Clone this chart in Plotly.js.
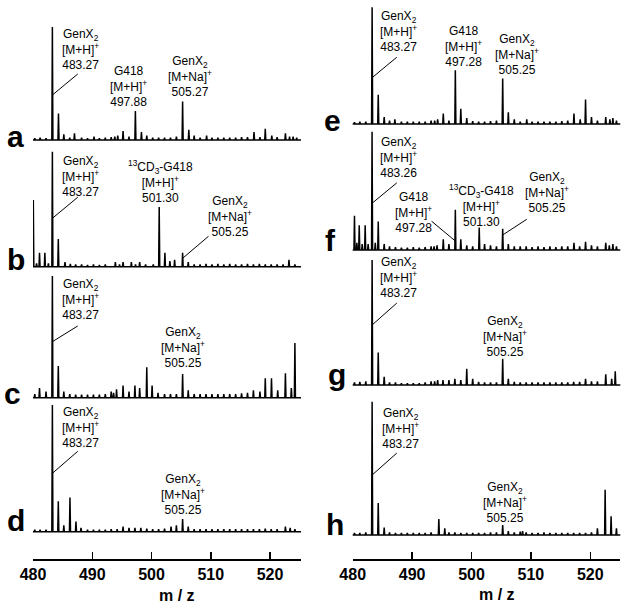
<!DOCTYPE html>
<html>
<head>
<meta charset="utf-8">
<script src="https://cdn.plot.ly/plotly-3.0.1.min.js"></script>
<style>html,body{margin:0;padding:0;background:#fff}#chart{width:629px;height:610px}</style>
</head>
<body>
<div id="chart"></div>
<script>
// ---------- DATA (m/z, relative intensity %) ----------
const tickValues = [480, 490, 500, 510, 520];
const axisTitle = 'm / z';
const panelLetters = ['a','b','c','d','e','f','g','h'];

const mzA = [480.3,481.2,482.2,483.27,484.3,485.2,486.2,487.0,488.2,489.2,490.3,491.2,492.2,493.2,493.8,494.3,495.2,496.2,497.28,498.3,499.2,500.2,501.2,502.2,503.2,504.2,505.25,506.3,507.2,508.2,509.3,510.2,511.2,512.2,513.2,514.2,515.2,516.2,517.3,518.3,519.2,520.3,521.2,522.6,523.3,523.9,524.5];
const intA = [1.5,2,1.5,100,23.5,5,2,6,2,1.5,3,1.5,2,2.5,3,4,8,3,25.6,7,4,2,2,2,2,3,34,9,4,2,4,2,2,2,2,2,2.5,2.5,7,2.5,10,4,2.5,6,3,3,2];

const mzB = [480.05,480.6,481.1,482.0,482.6,483.27,484.27,485.4,486.3,487.2,488.2,489.2,490.2,491.2,492.2,493.9,494.6,495.2,496.6,497.3,498.0,499.0,500.3,501.3,502.26,503.1,503.9,505.25,506.2,507.2,508.2,509.2,510.2,511.2,512.2,513.2,514.2,515.2,516.2,517.2,518.2,519.2,520.2,521.2,522.2,523.2,524.2];
const intB = [58,3,12,12,3,100,24,4,2.5,2,2,1.5,2,1.5,2,4,2,4,4,2,4,2,2,52,12,5,6,12,4,2,2,2.5,2,2.5,2,2.5,2,2,2.5,2,2.5,2,2,2,2,6,2];

const mzC = [480.3,481.1,482.2,483.27,484.27,485.2,486.2,487.2,488.2,489.2,490.2,491.2,492.2,493.2,493.6,494.1,495.2,496.2,497.2,498.0,499.2,500.1,501.1,502.2,503.2,504.2,505.25,506.2,507.2,508.2,509.2,510.2,511.2,512.2,513.2,514.2,515.2,516.2,517.2,518.3,519.2,520.25,521.3,522.6,523.6,524.2];
const intC = [3,8,5,100,26,5,3,2.5,2.5,2.5,2.5,2.5,3,5,4,7,10,5,10,8,25,10,4,3,3,3,19.5,6,3,3,3,3,3,3,3,3,3.5,4,6,5,16,16,6,20,8,45];

const mzD = [480.3,481.2,482.2,483.27,484.27,485.2,486.24,487.25,488.1,489.2,490.2,491.2,492.2,493.2,494.2,495.2,496.2,497.2,498.2,499.2,500.2,501.2,502.2,503.3,504.2,505.25,506.2,507.2,508.2,509.2,510.2,511.2,512.2,513.2,514.2,515.2,516.2,517.2,518.2,519.2,520.2,521.2,522.6,523.4,524.2];
const intD = [1.5,1.5,1.5,100,24,5,27,8,3,1.5,1.5,1.5,1.5,2,2,4,3,3,3,2.5,2,2,2.5,4,5,10,4,2,2,2,2,2,2,2,2,2,2,2,2,2.5,2,2,4,3,2];

const mzE = [480.3,481.2,482.2,483.27,484.3,485.3,486.2,487.1,488.2,489.2,490.2,491.2,492.2,493.2,493.8,494.3,495.25,496.2,497.28,498.2,499.2,500.2,501.2,502.2,503.2,504.2,505.25,506.2,507.2,508.2,509.3,510.2,511.2,512.2,513.2,514.2,515.2,516.2,517.25,518.3,519.2,520.2,521.2,522.6,523.3,523.8,524.4];
const intE = [1.5,2,2,100,25,6,3,4,2,2,2,2,2,3,3,4,9,3,46,13,5,2.5,2,2,2.5,3,39,10,4,2,4,2,2,2,2,2,2.5,3,9,4,21,6,3,6,4,5,3];

const mzF = [480.3,480.7,481.1,481.6,482.1,482.6,483.26,483.8,484.3,485.3,486.2,487.2,488.2,489.2,490.2,491.2,492.2,493.2,493.7,494.2,495.25,496.2,497.28,498.2,499.2,500.2,501.3,502.2,503.2,504.2,505.25,506.2,507.2,508.2,509.2,510.2,511.2,512.2,513.2,514.2,515.2,516.2,517.25,518.2,519.2,520.2,521.2,522.6,523.2,523.8,524.4];
const intF = [29,6,21,5,21,5,100,6,24,5,3,2.5,2,2,2.5,2,2.5,3,3,4,9,5,34,9,4,3,19,5,4,3,18,5,3,3,3,2.5,3,2.5,3,2.5,3,3,6,3,7,4,3,6,4,5,3];

const mzG = [480.3,481.2,482.2,483.27,484.3,485.3,486.2,487.2,488.2,489.2,490.2,491.2,492.2,493.2,493.8,494.3,495.2,496.2,497.2,498.2,499.2,500.2,501.2,502.2,503.2,504.2,505.25,506.2,507.2,508.2,509.2,510.2,511.2,512.2,513.2,514.2,515.2,516.2,517.2,518.2,519.2,520.2,521.2,522.6,523.6,524.2];
const intG = [2,2.5,3,100,26,6.5,2,2,1.5,1.5,1.5,1.5,2,3,3,4,4,4,5,4,13,5,2.5,2,2,2,21,5,2.5,2,2,2,2,2,2,2,2,2,2.5,2.5,5,3,3,8.5,5,11];

const mzH = [480.3,481.2,482.2,483.27,484.3,485.3,486.2,487.2,488.2,489.2,490.2,491.2,492.2,493.2,494.5,495.5,496.2,497.2,498.2,499.2,500.2,501.2,502.2,503.2,504.2,505.25,506.2,507.2,508.2,508.6,509.2,510.2,511.2,512.2,513.2,514.2,515.2,516.2,517.2,518.2,519.2,520.2,521.2,522.5,523.5,524.4];
const intH = [1.5,1.5,2,100,24,5.5,2,1.5,1.5,1.5,1.5,1.5,1.5,2,12,5,2,2,1.5,1.5,1.5,1.5,1.5,2,2,7.5,3,2,2.5,3,2,1.5,1.5,2,1.5,1.5,1.5,1.5,1.5,1.5,1.5,2,5,34,14,5];

// peak labels
const lblMH = (v) => 'GenX<sub>2</sub><br>[M+H]<sup>+</sup><br>' + v;
const lblNa = (v) => 'GenX<sub>2</sub><br>[M+Na]<sup>+</sup><br>' + v;
const lblG418 = (v) => 'G418<br>[M+H]<sup>+</sup><br>' + v;
const lblCD3 = (v) => '<sup>13</sup>CD<sub>3</sub>-G418<br>[M+H]<sup>+</sup><br>' + v;

// ---------- STYLE / LAYOUT ----------
const W = 629, H = 610;
const FONT = 'Arial, "Liberation Sans", Helvetica, sans-serif';
const spectra = [[mzA,intA],[mzB,intB],[mzC,intC],[mzD,intD],[mzE,intE],[mzF,intF],[mzG,intG],[mzH,intH]];
// baseline px, 100%-top px per panel
const geo = [[140,27],[266.7,151.7],[397.7,276],[531.7,405],[124,7.3],[250,131.7],[385,260],[535,401.7]];
const YLO = -5, YHI = 102;

function stick(mz, it){
  const idx = mz.map((m,i)=>i).sort((a,b)=>mz[a]-mz[b]);
  const xs=[479.5], ys=[0];
  idx.forEach(i=>{ const m=mz[i]; xs.push(m-0.09,m,m+0.09); ys.push(0,it[i],0); });
  xs.push(525.5); ys.push(0);
  return {xs,ys};
}

const traces = [];
const layout = {
  width: W, height: H, margin:{l:0,r:0,t:0,b:0},
  paper_bgcolor:'#fff', plot_bgcolor:'rgba(0,0,0,0)', showlegend:false,
  font:{family:FONT, color:'#000', size:12},
  annotations:[], shapes:[]
};
const xCommon = {tickvals:tickValues, ticks:'inside', ticklen:7, tickwidth:1.5, tickcolor:'#000',
  showline:true, linewidth:1.5, linecolor:'#000', showgrid:false, zeroline:false, anchor:'free',
  position: 1-559/H, tickfont:{family:FONT, size:16, color:'#000', weight:'bold'}, fixedrange:true};
layout.xaxis = Object.assign({}, xCommon, {domain:[33/W, 301/W], range:[480, 525.23]});
layout.xaxis2 = Object.assign({}, xCommon, {domain:[352.7/W, 620.3/W], range:[480, 525.05]});

spectra.forEach((s,k)=>{
  const {xs,ys} = stick(s[0], s[1]);
  const yname = k===0 ? 'y' : 'y'+(k+1);
  const xname = k<4 ? 'x' : 'x2';
  traces.push({type:'scatter', mode:'lines', x:xs, y:ys, xaxis:xname, yaxis:yname,
    line:{color:'#000', width:1.5}, hoverinfo:'skip'});
  const [b,t] = geo[k];
  const ppu = (b-t)/100;
  const botPx = b - YLO*ppu, topPx = t - (YHI-100)*ppu;
  layout['yaxis'+(k===0?'':(k+1))] = {domain:[1-botPx/H, 1-topPx/H], range:[YLO,YHI], visible:false,
    anchor:xname, fixedrange:true};
});

// labels: [text, cx px, cy px]
const labels = [
  [lblMH('483.27'), 80, 50], [lblG418('497.88'), 128.3, 86], [lblNa('505.27'), 190, 77],
  [lblMH('483.27'), 80, 177], [lblCD3('501.30'), 160, 181.7], [lblNa('505.25'), 230, 216.5],
  [lblMH('483.27'), 80, 299.5], [lblNa('505.25'), 182.7, 347.5],
  [lblMH('483.27'), 80, 427.5], [lblNa('505.25'), 182.7, 494.5],
  [lblMH('483.27'), 398.3, 31], [lblG418('497.28'), 463.3, 46.5], [lblNa('505.25'), 516.7, 54],
  [lblMH('483.26'), 398.3, 157], [lblG418('497.28'), 413.3, 212], [lblCD3('501.30'), 481.7, 205], [lblNa('505.25'), 546.7, 192.5],
  [lblMH('483.27'), 398.3, 277.5], [lblNa('505.25'), 505, 336.5],
  [lblMH('483.27'), 400, 428], [lblNa('505.25'), 505, 502]
];
labels.forEach(l=>layout.annotations.push({xref:'paper', yref:'paper', x:l[1]/W, y:1-l[2]/H,
  xanchor:'center', yanchor:'middle', text:l[0], showarrow:false, font:{family:FONT, size:12, color:'#000'}}));

// leader lines: [panel index, mz tip, tip %, ax px, ay px]
const leaders = [
  [0,483.27,39.8,26.9,-22.3],
  [1,483.27,42.1,26.9,-22.3],[1,505.25,7.3,27.4,-23.3],
  [2,483.27,46,26.9,-16.7],
  [3,483.27,46.1,26.9,-23.3],
  [4,483.27,39.7,26.2,-21.7],
  [5,483.26,39.5,26.2,-21.6],[5,497.28,7.6,-25.2,-21],[5,505.25,12.7,25.6,-16.7],
  [6,483.27,48,26.2,-23.3],
  [7,483.27,45,26.2,-23.3]
];
leaders.forEach(d=>{
  const k=d[0];
  layout.annotations.push({xref:k<4?'x':'x2', yref:k===0?'y':'y'+(k+1), x:d[1], y:d[2], ax:d[3], ay:d[4],
    text:'', showarrow:true, arrowhead:0, arrowwidth:1, arrowcolor:'#000', standoff:0, startstandoff:0});
});

// panel letters
const letterPos = [[15,136],[15.7,259],[13,393],[16,520],[332,120],[330.7,240],[336.7,374],[335,524]];
panelLetters.forEach((L,i)=>layout.annotations.push({xref:'paper', yref:'paper', x:letterPos[i][0]/W, y:1-letterPos[i][1]/H,
  xanchor:'center', yanchor:'middle', text:L, showarrow:false, font:{family:FONT, size:30, color:'#000', weight:'bold'}}));

// axis titles
[[177,595],[496.7,594.3]].forEach(p=>layout.annotations.push({xref:'paper', yref:'paper', x:p[0]/W, y:1-p[1]/H,
  xanchor:'center', yanchor:'middle', text:axisTitle, showarrow:false, font:{family:FONT, size:16, color:'#000', weight:'bold'}}));

Plotly.newPlot('chart', traces, layout, {staticPlot:true, displayModeBar:false});
</script>
</body>
</html>
